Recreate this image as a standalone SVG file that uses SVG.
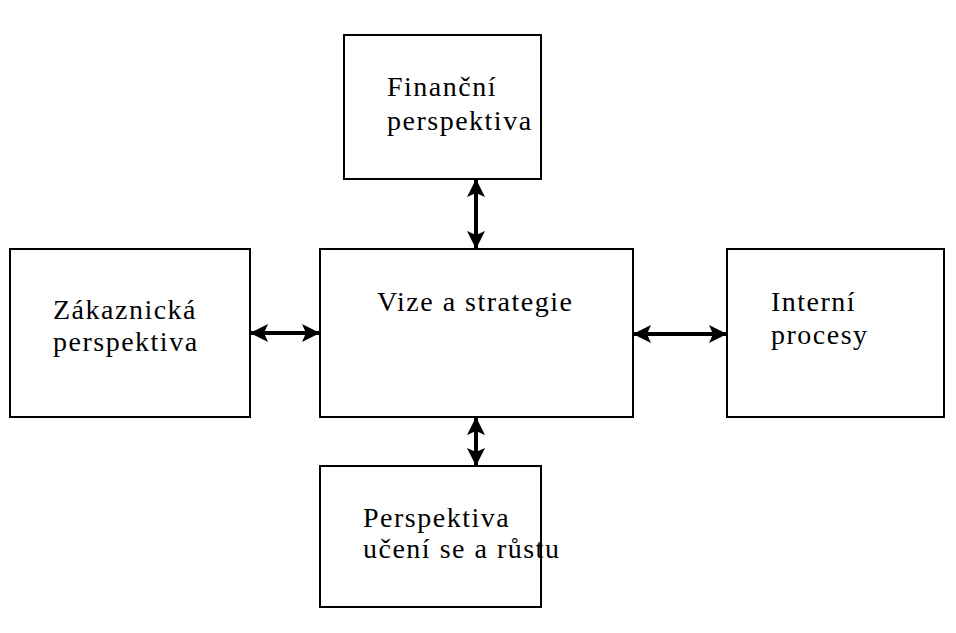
<svg xmlns="http://www.w3.org/2000/svg" width="956" height="633" viewBox="0 0 956 633">
  <style>
    .box { fill: #ffffff; stroke: #000000; stroke-width: 2; }
    .label { font-family: "Liberation Serif", "Times New Roman", serif; font-size: 28px; letter-spacing: 1.5px; fill: #000000; }
    .link { stroke: #000000; stroke-width: 4; fill: none; marker-start: url(#head); marker-end: url(#head); }
  </style>
  <defs>
    <marker id="head" viewBox="0 0 18 18" refX="17" refY="9" markerWidth="18" markerHeight="18" markerUnits="userSpaceOnUse" orient="auto-start-reverse">
      <path d="M0,0 L18,9 L0,18 L4,9 Z" fill="#000000"/>
    </marker>
  </defs>
  <rect width="956" height="633" fill="#ffffff"/>

  <g id="financni">
    <rect class="box" x="344" y="35" width="197" height="144"/>
    <text class="label" x="387" y="96">Finanční</text>
    <text class="label" x="387" y="130">perspektiva</text>
  </g>

  <g id="zakaznicka">
    <rect class="box" x="10" y="249" width="240" height="168"/>
    <text class="label" x="53" y="319">Zákaznická</text>
    <text class="label" x="53" y="351">perspektiva</text>
  </g>

  <g id="vize">
    <rect class="box" x="320" y="249" width="313" height="168"/>
    <text class="label" x="377" y="311">Vize a strategie</text>
  </g>

  <g id="interni">
    <rect class="box" x="727" y="249" width="217" height="168"/>
    <text class="label" x="771" y="311">Interní</text>
    <text class="label" x="771" y="344">procesy</text>
  </g>

  <g id="uceni">
    <rect class="box" x="320" y="466" width="221" height="141"/>
    <text class="label" x="363" y="527">Perspektiva</text>
    <text class="label" x="363" y="558">učení se a růstu</text>
  </g>

  <g id="connectors">
    <line class="link" x1="476" y1="180" x2="476" y2="248"/>
    <line class="link" x1="251" y1="333" x2="319" y2="333"/>
    <line class="link" x1="634" y1="334" x2="726" y2="334"/>
    <line class="link" x1="476" y1="418" x2="476" y2="465"/>
  </g>
</svg>
